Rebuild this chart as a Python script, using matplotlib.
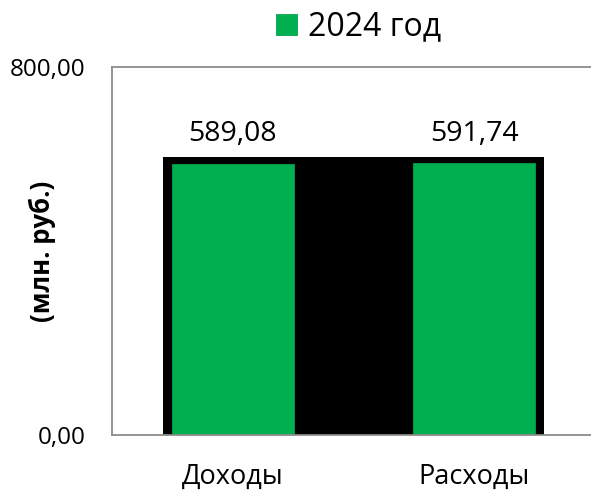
import matplotlib
matplotlib.use("Agg")
import matplotlib.pyplot as plt
import numpy as np

categories = ["Доходы", "Расходы"]
values_2024 = [589.08, 591.74]
series_name = "2024 год"
y_ticks = [0, 800]
y_tick_labels = ["0,00", "800,00"]
y_label = "(млн. руб.)"

plt.rcParams['font.family'] = ['Open Sans', 'DejaVu Sans']

fig = plt.figure(figsize=(5.91, 4.92), dpi=100)
ax = fig.add_axes([112/591, 57/492, (595-112)/591, (435-67)/492])

x = np.arange(len(categories))
# black backdrop behind the bars
ax.bar([x.mean()], [max(values_2024) * 1.021], width=1.58, color="black", zorder=1)
bars = ax.bar(x, values_2024, width=0.505, color="#00B050", edgecolor="#00A04A",
              linewidth=0.6, label=series_name, zorder=2)

for xi, v in zip(x, values_2024):
    ax.annotate(f"{v:.2f}".replace(".", ","), (xi, max(values_2024) * 1.021),
                xytext=(0, 6.5), textcoords="offset points", ha="center", va="bottom",
                fontsize=20.5, color="black")

ax.set_xlim(-0.5, 1.5)
ax.set_ylim(0, 800)
ax.set_yticks(y_ticks)
ax.set_yticklabels(y_tick_labels, fontsize=17.5)
ax.set_xticks(x)
ax.set_xticklabels(categories, fontsize=19.5)
ax.tick_params(axis="both", length=0)
ax.tick_params(axis="y", pad=19)
ax.tick_params(axis="x", pad=20)
ax.set_ylabel(y_label, fontsize=18.5, fontweight="bold")
ax.yaxis.set_label_coords(-0.115, 0.5)

for side in ["left", "top", "bottom", "right"]:
    ax.spines[side].set_color("#8c8c8c")
    ax.spines[side].set_linewidth(1.3)

fig.legend(handles=[bars], labels=[series_name], loc="center",
           bbox_to_anchor=(359/591, 1 - 27/492), frameon=False,
           fontsize=23, handlelength=0.65, handleheight=0.65, handletextpad=0.35,
           borderaxespad=0)

fig.savefig("out.png", dpi=100)
